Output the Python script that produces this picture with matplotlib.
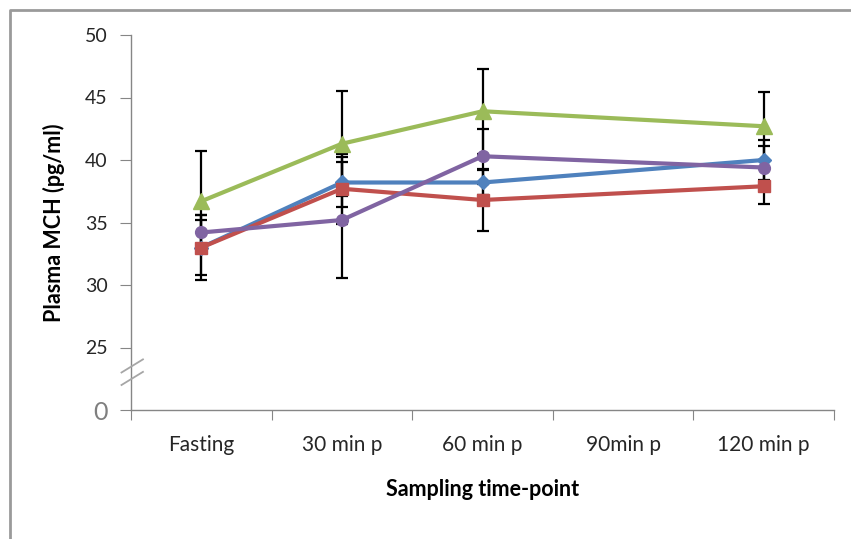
import matplotlib
matplotlib.use("Agg")
import matplotlib.pyplot as plt
import matplotlib.transforms as mtransforms
from matplotlib.lines import Line2D

plt.rcParams['font.family'] = ['Lato', 'DejaVu Sans']

# category axis (90 min has no samples, lines jump 60 -> 120)
categories = ["Fasting", "30 min p", "60 min p", "90min p", "120 min p"]
sample_idx = [0, 1, 2, 4]

blue = [33.0, 38.2, 38.2, 40.0]
blue_err = [2.6, 2.0, 1.0, 1.6]
red = [33.0, 37.7, 36.8, 37.9]
red_err = [2.2, 2.8, 2.5, 1.4]
green = [36.7, 41.3, 43.9, 42.7]
green_err = [4.0, 4.2, 3.4, 2.7]
purple = [34.2, 35.2, 40.3, 39.4]
purple_err = [1.4, 4.6, 2.2, 1.7]

# y axis is broken: the tick drawn at 20 is labelled "0"
ytick_vals = [20, 25, 30, 35, 40, 45, 50]
ytick_labels = ["0", "25", "30", "35", "40", "45", "50"]

series = [
    (blue, blue_err, "#4F81BD", "D", 7.0),
    (red, red_err, "#C0504D", "s", 8.5),
    (green, green_err, "#9BBB59", "^", 11),
    (purple, purple_err, "#8064A2", "o", 8.5),
]

fig = plt.figure(figsize=(8.51, 5.39), dpi=100)
ax = fig.add_axes([131 / 851, 1 - 410 / 539, 703 / 851, 375 / 539])

for vals, err, col, mk, ms in series:
    ax.errorbar(sample_idx, vals, yerr=err, fmt="none", ecolor="black",
                elinewidth=1.6, capsize=4.5, capthick=1.6, zorder=2)
for vals, err, col, mk, ms in series:
    ax.plot(sample_idx, vals, color=col, lw=3, marker=mk, ms=ms,
            markeredgecolor=col, zorder=3)

ax.set_xlim(-0.5, len(categories) - 0.5)
ax.set_ylim(20, 50)

# ticks at category boundaries, labels at centres
ax.set_xticks([i - 0.5 for i in range(len(categories) + 1)])
ax.set_xticklabels([])
ax.set_xticks(range(len(categories)), minor=True)
ax.set_xticklabels(categories, minor=True, fontsize=15, color="#262626")
ax.tick_params(axis="x", which="major", length=7, color="#868686", direction="out")
ax.tick_params(axis="x", which="minor", length=0, pad=18)

ax.set_yticks(ytick_vals)
ax.set_yticklabels(ytick_labels, fontsize=14, color="#262626")
ax.tick_params(axis="y", length=8, color="#868686", pad=9)
zero_lbl = ax.get_yticklabels()[0]
zero_lbl.set_fontsize(18)
zero_lbl.set_color("#7f7f7f")

for s in ["top", "right"]:
    ax.spines[s].set_visible(False)
for s in ["left", "bottom"]:
    ax.spines[s].set_color("#868686")
    ax.spines[s].set_linewidth(1)

# axis break marks
trans = mtransforms.blended_transform_factory(ax.transAxes, ax.transData)
for y0 in [23.0, 22.0]:
    ax.plot([-0.0135, 0.017], [y0, y0 + 1.05], color="#a6a6a6", lw=1.3,
            transform=trans, clip_on=False, zorder=4)

ax.set_ylabel("Plasma MCH (pg/ml)", fontsize=15.5, fontweight="bold")
ax.set_xlabel("Sampling time-point", fontsize=15.5, fontweight="bold")
ax.yaxis.set_label_coords(-0.094, 0.5)
ax.xaxis.set_label_coords(0.5, -0.184)

# chart area border (only top and left visible in the crop)
fig.add_artist(Line2D([10 / 851, 10 / 851, 1], [0, 1 - 10 / 539, 1 - 10 / 539],
                      transform=fig.transFigure, color="#9a9a9a", lw=2))

fig.savefig("out.png", dpi=100)
